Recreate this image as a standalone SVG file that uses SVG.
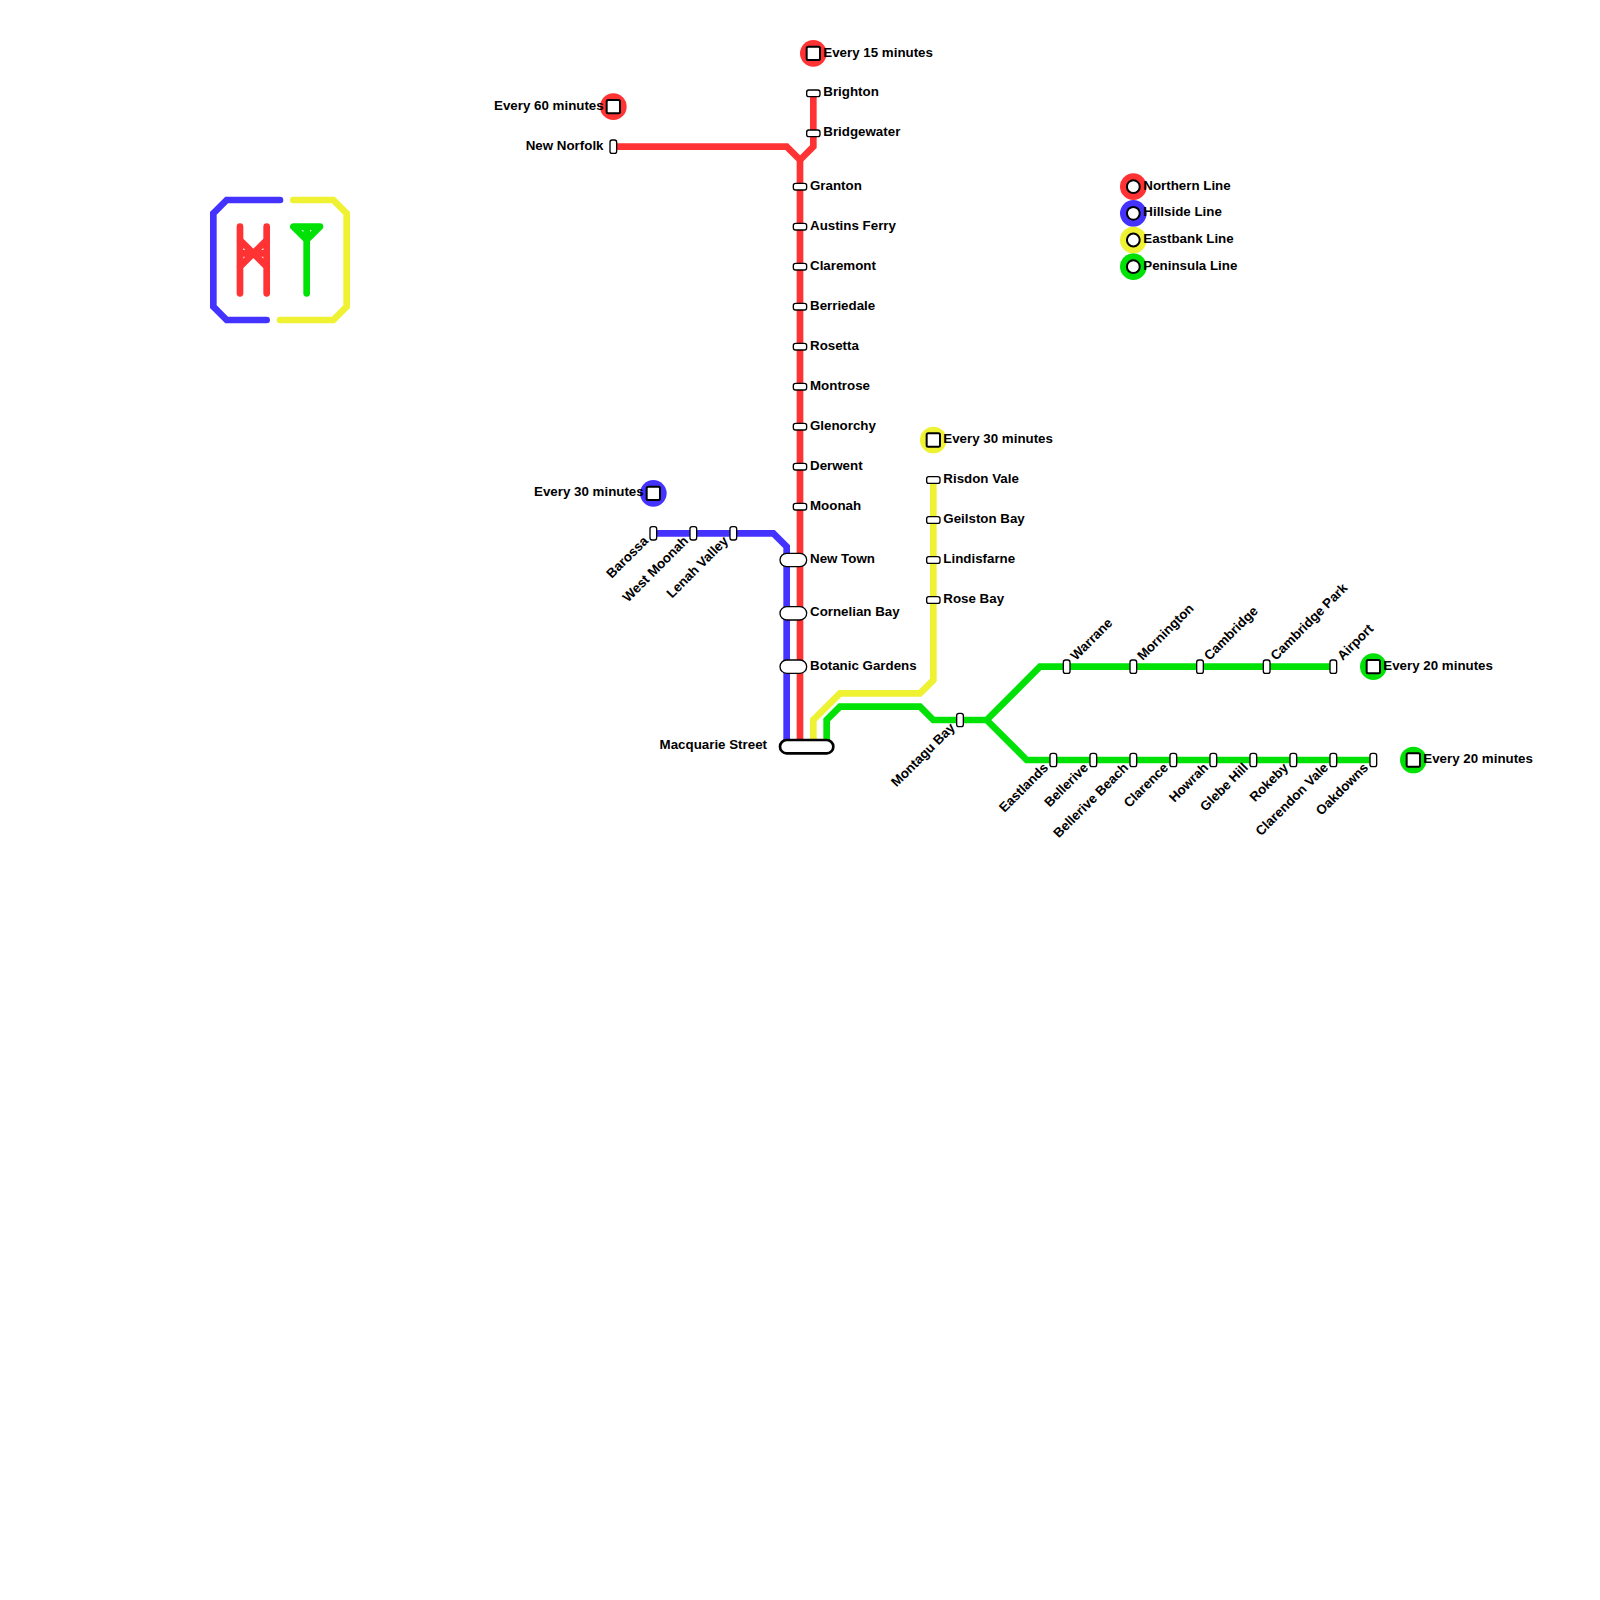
<svg xmlns="http://www.w3.org/2000/svg" width="1600" height="1600" viewBox="0 0 1600 1600">
<defs>
<style>
.l{fill:none;stroke-width:6.67;stroke-linejoin:miter;stroke-linecap:butt}
.k{fill:none;stroke-width:6.67;stroke-linejoin:miter;stroke-linecap:round}
.n{stroke-linejoin:round}
.r{stroke:#ff3333}.b{stroke:#4433ff}.y{stroke:#eef233}.g{stroke:#00e206}
.s{fill:#fff;stroke:#000;stroke-width:1.33}
.m{fill:#fff;stroke:#000;stroke-width:2.67}
.t{fill:#fff;stroke:#000;stroke-width:2}
text{font-family:"Liberation Sans",Arial,sans-serif;font-weight:700;font-size:13.33px;fill:#000}
.e{text-anchor:end}
</style>
<rect id="h" class="s" x="-6.67" y="-3.33" width="13.33" height="6.67" rx="2.2"/>
<rect id="v" class="s" x="-3.33" y="-6.67" width="6.67" height="13.33" rx="2.2"/>
<rect id="w" class="s" x="-13.33" y="-6.67" width="26.67" height="13.33" rx="6.67"/>
<rect id="q" class="t" x="-6.67" y="-6.67" width="13.33" height="13.33" rx="1.5"/>
</defs>
<g id="connectors">
<path class="l r" d="M613.33 146.67H786.67L800 160V746.67"/>
<path class="l r" d="M813.33 93.33V146.67L800 160"/>
<path class="l b" d="M653.33 533.33H773.33L786.67 546.67V746.67"/>
<path class="l y" d="M933.33 480V680L920 693.33H840L813.33 720V746.67"/>
<path class="l g" d="M826.67 746.67V720L840 706.67H920L933.33 720H986.67L1040 666.67H1333.33"/>
<path class="l g" d="M986.67 720L1026.67 760H1373.33"/>
</g>
<g id="icon">
<path class="k b" d="M280 200H226.67L213.33 213.33V306.67L226.67 320H266.67"/>
<path class="k y" d="M293.33 200H333.33L346.67 213.33V306.67L333.33 320H280"/>
<path class="k r" d="M240 226.67V293.33M266.67 226.67V293.33M240 240L266.67 266.67M266.67 240L240 266.67M240 253.33H266.67"/>
<path class="k n g" d="M293.33 226.67H320L306.67 240ZM306.67 226.67V293.33"/>
</g>
<g id="legend">
<g id="legend-northern"><circle cx="1133.33" cy="186.67" r="13.33" fill="#ff3333"/><circle class="t" cx="1133.33" cy="186.67" r="6.4"/><text x="1143.3" y="189.7">Northern Line</text></g>
<g id="legend-hillside"><circle cx="1133.33" cy="213.33" r="13.33" fill="#4433ff"/><circle class="t" cx="1133.33" cy="213.33" r="6.4"/><text x="1143.3" y="216.3">Hillside Line</text></g>
<g id="legend-eastbank"><circle cx="1133.33" cy="240" r="13.33" fill="#eef233"/><circle class="t" cx="1133.33" cy="240" r="6.4"/><text x="1143.3" y="243">Eastbank Line</text></g>
<g id="legend-peninsula"><circle cx="1133.33" cy="266.67" r="13.33" fill="#00e206"/><circle class="t" cx="1133.33" cy="266.67" r="6.4"/><text x="1143.3" y="269.7">Peninsula Line</text></g>
</g>
<g id="term-red-north"><circle cx="813.33" cy="53.33" r="13.33" fill="#ff3333"/><use href="#q" x="813.33" y="53.33"/><text x="823.3" y="57">Every 15 minutes</text></g>
<g id="term-red-west"><circle cx="613.33" cy="106.67" r="13.33" fill="#ff3333"/><use href="#q" x="613.33" y="106.67"/><text class="e" x="603.7" y="109.7">Every 60 minutes</text></g>
<g id="term-blue"><circle cx="653.33" cy="493.33" r="13.33" fill="#4433ff"/><use href="#q" x="653.33" y="493.33"/><text class="e" x="643.7" y="496.3">Every 30 minutes</text></g>
<g id="term-yellow"><circle cx="933.33" cy="440" r="13.33" fill="#eef233"/><use href="#q" x="933.33" y="440"/><text x="943.3" y="443">Every 30 minutes</text></g>
<g id="term-green-a"><circle cx="1373.33" cy="666.67" r="13.33" fill="#00e206"/><use href="#q" x="1373.33" y="666.67"/><text x="1383.3" y="669.7">Every 20 minutes</text></g>
<g id="term-green-b"><circle cx="1413.33" cy="760" r="13.33" fill="#00e206"/><use href="#q" x="1413.33" y="760"/><text x="1423.3" y="763">Every 20 minutes</text></g>
<g id="st-new-norfolk"><use href="#v" x="613.33" y="146.67"/><text class="e" x="603.5" y="149.7">New Norfolk</text></g>
<g id="st-brighton"><use href="#h" x="813.33" y="93.33"/><text x="823.3" y="96.3">Brighton</text></g>
<g id="st-bridgewater"><use href="#h" x="813.33" y="133.33"/><text x="823.3" y="136.3">Bridgewater</text></g>
<g id="st-granton"><use href="#h" x="800" y="186.67"/><text x="810" y="189.7">Granton</text></g>
<g id="st-austins-ferry"><use href="#h" x="800" y="226.67"/><text x="810" y="229.7">Austins Ferry</text></g>
<g id="st-claremont"><use href="#h" x="800" y="266.67"/><text x="810" y="269.7">Claremont</text></g>
<g id="st-berriedale"><use href="#h" x="800" y="306.67"/><text x="810" y="309.7">Berriedale</text></g>
<g id="st-rosetta"><use href="#h" x="800" y="346.67"/><text x="810" y="349.7">Rosetta</text></g>
<g id="st-montrose"><use href="#h" x="800" y="386.67"/><text x="810" y="389.7">Montrose</text></g>
<g id="st-glenorchy"><use href="#h" x="800" y="426.67"/><text x="810" y="429.7">Glenorchy</text></g>
<g id="st-derwent"><use href="#h" x="800" y="466.67"/><text x="810" y="469.7">Derwent</text></g>
<g id="st-moonah"><use href="#h" x="800" y="506.67"/><text x="810" y="509.7">Moonah</text></g>
<g id="st-new-town"><use href="#w" x="793.33" y="560"/><text x="810" y="563">New Town</text></g>
<g id="st-cornelian-bay"><use href="#w" x="793.33" y="613.33"/><text x="810" y="616.3">Cornelian Bay</text></g>
<g id="st-botanic-gardens"><use href="#w" x="793.33" y="666.67"/><text x="810" y="669.7">Botanic Gardens</text></g>
<g id="st-macquarie-street"><rect class="m" x="780" y="740" width="53.33" height="13.33" rx="6.67"/><text class="e" x="767" y="749">Macquarie Street</text></g>
<g id="st-risdon-vale"><use href="#h" x="933.33" y="480"/><text x="943.3" y="483">Risdon Vale</text></g>
<g id="st-geilston-bay"><use href="#h" x="933.33" y="520"/><text x="943.3" y="523">Geilston Bay</text></g>
<g id="st-lindisfarne"><use href="#h" x="933.33" y="560"/><text x="943.3" y="563">Lindisfarne</text></g>
<g id="st-rose-bay"><use href="#h" x="933.33" y="600"/><text x="943.3" y="603">Rose Bay</text></g>
<g id="st-barossa"><use href="#v" x="653.33" y="533.33"/><text class="e" transform="translate(649 541.7) rotate(-45)">Barossa</text></g>
<g id="st-west-moonah"><use href="#v" x="693.33" y="533.33"/><text class="e" transform="translate(689 541.7) rotate(-45)">West Moonah</text></g>
<g id="st-lenah-valley"><use href="#v" x="733.33" y="533.33"/><text class="e" transform="translate(729 541.7) rotate(-45)">Lenah Valley</text></g>
<g id="st-montagu-bay"><use href="#v" x="960" y="720"/><text class="e" transform="translate(955.7 728.4) rotate(-45)">Montagu Bay</text></g>
<g id="st-eastlands"><use href="#v" x="1053.33" y="760"/><text class="e" transform="translate(1049 768.4) rotate(-45)">Eastlands</text></g>
<g id="st-bellerive"><use href="#v" x="1093.33" y="760"/><text class="e" transform="translate(1089 768.4) rotate(-45)">Bellerive</text></g>
<g id="st-bellerive-beach"><use href="#v" x="1133.33" y="760"/><text class="e" transform="translate(1129 768.4) rotate(-45)">Bellerive Beach</text></g>
<g id="st-clarence"><use href="#v" x="1173.33" y="760"/><text class="e" transform="translate(1169 768.4) rotate(-45)">Clarence</text></g>
<g id="st-howrah"><use href="#v" x="1213.33" y="760"/><text class="e" transform="translate(1209 768.4) rotate(-45)">Howrah</text></g>
<g id="st-glebe-hill"><use href="#v" x="1253.33" y="760"/><text class="e" transform="translate(1249 768.4) rotate(-45)">Glebe Hill</text></g>
<g id="st-rokeby"><use href="#v" x="1293.33" y="760"/><text class="e" transform="translate(1289 768.4) rotate(-45)">Rokeby</text></g>
<g id="st-clarendon-vale"><use href="#v" x="1333.33" y="760"/><text class="e" transform="translate(1329 768.4) rotate(-45)">Clarendon Vale</text></g>
<g id="st-oakdowns"><use href="#v" x="1373.33" y="760"/><text class="e" transform="translate(1369 768.4) rotate(-45)">Oakdowns</text></g>
<g id="st-warrane"><use href="#v" x="1066.67" y="666.67"/><text transform="translate(1076 661) rotate(-45)">Warrane</text></g>
<g id="st-mornington"><use href="#v" x="1133.33" y="666.67"/><text transform="translate(1142.7 661) rotate(-45)">Mornington</text></g>
<g id="st-cambridge"><use href="#v" x="1200" y="666.67"/><text transform="translate(1209.4 661) rotate(-45)">Cambridge</text></g>
<g id="st-cambridge-park"><use href="#v" x="1266.67" y="666.67"/><text transform="translate(1276 661) rotate(-45)">Cambridge Park</text></g>
<g id="st-airport"><use href="#v" x="1333.33" y="666.67"/><text transform="translate(1342.7 661) rotate(-45)">Airport</text></g>
</svg>
